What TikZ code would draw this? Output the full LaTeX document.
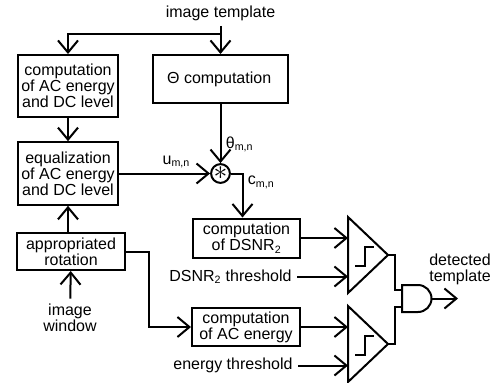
\documentclass[tikz,border=0pt]{standalone}
\usepackage{fontspec}
\setmainfont{Liberation Sans}
\usetikzlibrary{arrows.meta}

\begin{document}
\begin{tikzpicture}[x=0.75pt,y=-0.75pt,line width=1.5pt,
    >={Straight Barb[length=9pt,width=15pt]},
    font=\fontsize{12}{12}\selectfont,
    block/.style={draw,align=center,inner sep=0pt}]
	\useasboundingbox (0,0) rectangle (494,383);
		% blocks
		\node (tmpl) at (220.5,13) {image template};
		\coordinate (split) at (220.5,34);
		\node[block,minimum width=75pt,minimum height=46.5pt] (acdc) at (68,86) {computation\\of AC energy\\and DC level};
		\node[block,minimum width=101.25pt,minimum height=36pt] (theta) at (220.5,79) {$\!$Θ computation};
		\node[block,minimum width=75pt,minimum height=47pt] (eq) at (68,173.5) {equalization\\of AC energy\\and DC level};
		\node[draw,circle,minimum size=11.25pt,inner sep=0pt] (mult) at (220.5,173.5) {\fontsize{20}{20}\selectfont$\ast$};
		\node[block,minimum width=81pt,minimum height=27.75pt] (rot) at (71,251.5) {appropriated\\rotation};
		\node[align=center] (win) at (70,318) {image\\window};
		\node[block,minimum width=80.25pt,minimum height=29.25pt] (dsnr) at (246.5,238) {computation\\of DSNR\textsubscript{2}};
		\node[block,minimum width=81pt,minimum height=28.5pt] (acen) at (246,327) {computation\\of AC energy};
		\node[anchor=east] (dthr) at (297,276.5) {DSNR\textsubscript{2} threshold};
		\node[anchor=east] (ethr) at (298,365.5) {energy threshold};
		\node[align=center] (det) at (460,269) {detected\\template};
		% comparators
		\foreach \y [count=\i] in {255,344} {
			\draw (348,\y-38) -- (388,\y) -- (348,\y+38) -- cycle;
			\draw (355,\y+11) -- (365,\y+11) -- (365,\y-8) -- (374,\y-8);
			\coordinate (cmp\i-in1) at (348,\y-17);
			\coordinate (cmp\i-in2) at (348,\y+21.5);
			\coordinate (cmp\i-out) at (388,\y);
		}
		% and gate
		\draw (402,285) -- (418,285) arc (90:-90:10.125pt) -- (402,312) -- cycle;
		\coordinate (and-in1) at (402,290);
		\coordinate (and-in2) at (402,307);
		\coordinate (and-out) at (431.5,298.5);
		\coordinate (det-end) at (458,298.5);
		% connections
		\draw[->] (tmpl) -- (theta);
		\draw[->] (split) -| (acdc);
		\draw[->] (acdc) -- (eq);
		\draw[->] (rot.north -| eq.south) -- (eq.south);
		\draw[->] (win) -- (rot);
		\draw[->] (theta) -- node[right,pos=0.68] {θ\textsubscript{m,n}} (mult);
		\draw[->] (eq) -- node[above,pos=0.63] {u\textsubscript{m,n}} (mult);
		\draw[->] (mult) -| node[right,pos=0.6] {c\textsubscript{m,n}} ([xshift=-3pt]dsnr.north);
		\draw[->] (rot.east) -- ++(23,0) |- (acen);
		\draw[->] (dsnr) -- (cmp1-in1);
		\draw[->] (dthr) -- (cmp1-in2);
		\draw[->] (acen) -- (cmp2-in1);
		\draw[->] (ethr) -- (cmp2-in2);
		\draw (cmp1-out) -- ++(7,0) |- (and-in1);
		\draw (cmp2-out) -- ++(7,0) |- (and-in2);
		\draw[->] (and-out) -- (det-end);
	\end{tikzpicture}
\end{document}
